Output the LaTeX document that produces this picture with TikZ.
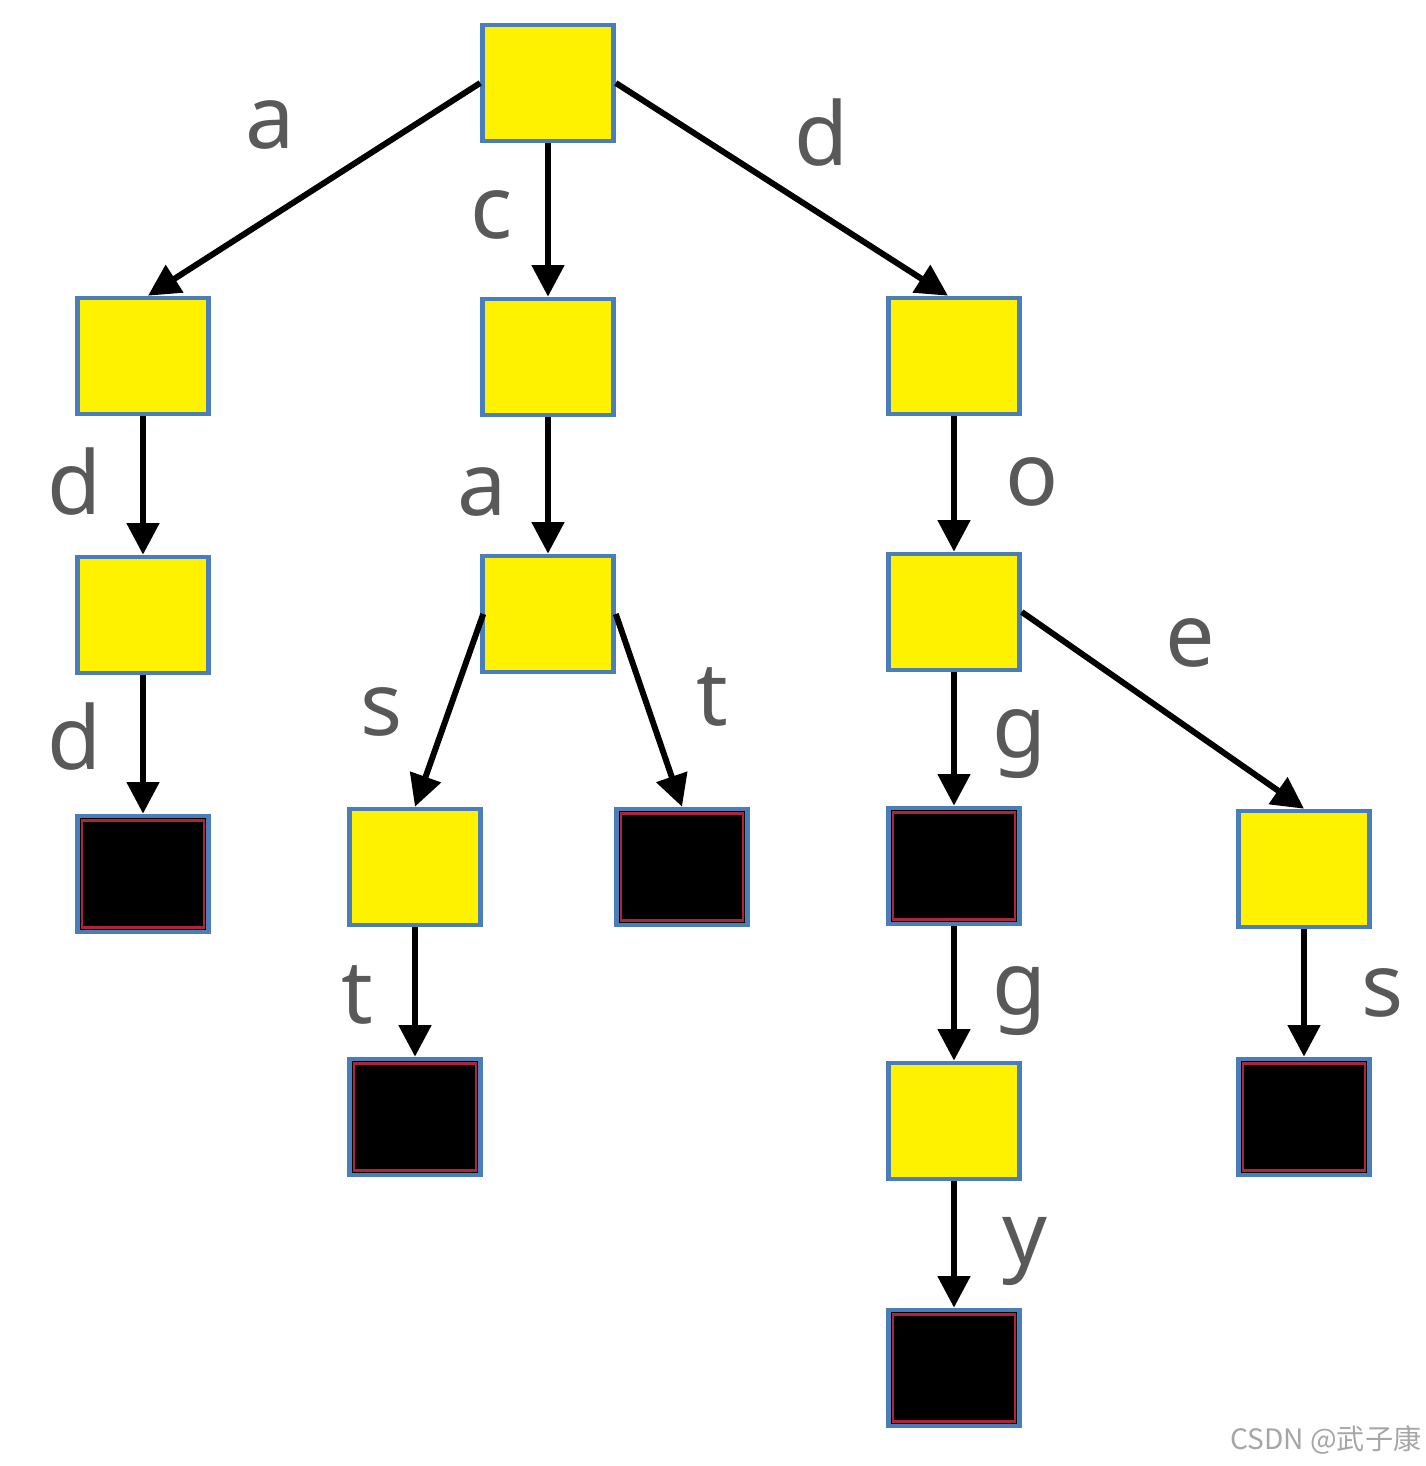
\documentclass[tikz,border=0pt]{standalone}
\usepackage{fontspec}
\setmainfont{Noto Sans}
\newfontfamily\cjkfont{Noto Sans CJK SC}
\usetikzlibrary{positioning,calc,arrows.meta}
\definecolor{boxyellow}{HTML}{FFF200}
\definecolor{boxblue}{HTML}{4A7EBB}
\definecolor{leafred}{HTML}{B0243A}
\definecolor{lblgray}{HTML}{595959}
\tikzset{
  trienode/.style = {rectangle,draw=boxblue,line width=1.3pt,fill=boxyellow,
                     minimum width=1.31cm,minimum height=1.16cm,inner sep=0pt},
  endnode/.style  = {trienode,fill=black,
                     path picture={\draw[leafred,line width=0.8pt]
                       ([shift={(1.3pt,1.3pt)}]path picture bounding box.south west)
                       rectangle ([shift={(-1.3pt,-1.3pt)}]path picture bounding box.north east);}},
  edgelabel/.style = {inner sep=0pt, text=lblgray, font=\fontsize{25}{30}\selectfont},
  edge/.style     = {->,line width=1.7pt},
  >={Triangle[length=9pt,width=9pt]}
}

\begin{document}
\begin{tikzpicture}
    \useasboundingbox (0,0) rectangle (14.26,14.66);

    % level 0
    \node[trienode] (root) at (5.48,13.83) {};

    % level 1
    \node[trienode] (nA) at (1.43,11.10) {};
    \node[trienode] (nC) at (5.48,11.09) {};
    \node[trienode] (nD) at (9.54,11.10) {};

    % level 2
    \node[trienode] (nAD) at (1.43,8.51) {};
    \node[trienode] (nCA) at (5.48,8.52) {};
    \node[trienode] (nDO) at (9.54,8.54) {};

    % level 3
    \node[endnode]  (nADD) at (1.43,5.92) {};
    \node[trienode] (nCAS) at (4.15,5.99) {};
    \node[endnode]  (nCAT) at (6.82,5.99) {};
    \node[endnode]  (nDOG) at (9.54,6.00) {};
    \node[trienode] (nDOE) at (13.04,5.97) {};

    % level 4
    \node[endnode]  (nCAST) at (4.15,3.49) {};
    \node[trienode] (nDOGG) at (9.54,3.45) {};
    \node[endnode]  (nDOES) at (13.04,3.49) {};

    % level 5
    \node[endnode]  (nDOGGY) at (9.54,0.98) {};

    % edges
    \draw[edge] (root.west)  -- ([xshift=0.05cm]nA.north);
    \draw[edge] (root.south) -- (nC.north);
    \draw[edge] (root.east)  -- ([xshift=-0.06cm]nD.north);
    \draw[edge] (nA.south)   -- (nAD.north);
    \draw[edge] (nAD.south)  -- (nADD.north);
    \draw[edge] (nC.south)   -- (nCA.north);
    \draw[edge] ([xshift=0.03cm]nCA.west) -- (nCAS.north);
    \draw[edge] (nCA.east)   -- (nCAT.north);
    \draw[edge] (nCAS.south) -- (nCAST.north);
    \draw[edge] (nD.south)   -- (nDO.north);
    \draw[edge] (nDO.south)  -- (nDOG.north);
    \draw[edge] (nDO.east)   -- (nDOE.north);
    \draw[edge] (nDOG.south) -- (nDOGG.north);
    \draw[edge] (nDOGG.south)-- (nDOGGY.north);
    \draw[edge] (nDOE.south) -- (nDOES.north);

    % edge letters
    \node[edgelabel] (lA)    at (2.70,13.41) {a};
    \node[edgelabel] (lC)    at (4.92,12.51) {c};
    \node[edgelabel] (lD)    at (8.22,13.33) {d};
    \node[edgelabel] (lAD)   at (0.75,9.84) {d};
    \node[edgelabel] (lCA)   at (4.82,9.74) {a};
    \node[edgelabel] (lDO)   at (10.32,9.84) {o};
    \node[edgelabel] (lADD)  at (0.75,7.29) {d};
    \node[edgelabel] (lCAS)  at (3.82,7.54) {s};
    \node[edgelabel] (lCAT)  at (7.12,7.69) {t};
    \node[edgelabel] (lDOE)  at (11.90,8.23) {e};
    \node[edgelabel] (lDOG)  at (10.20,7.22) {g};
    \node[edgelabel] (lCAST) at (3.57,4.71) {t};
    \node[edgelabel] (lDOGG) at (10.20,4.65) {g};
    \node[edgelabel] (lDOES) at (13.83,4.73) {s};
    \node[edgelabel] (lDOGGY)at (10.25,2.15) {y};

    % watermark
    \node[anchor=east,inner sep=0pt,text=black!35,font=\cjkfont\fontsize{8}{10}\selectfont]
      (mark) at (14.22,0.26) {CSDN @武子康};
\end{tikzpicture}
\end{document}
